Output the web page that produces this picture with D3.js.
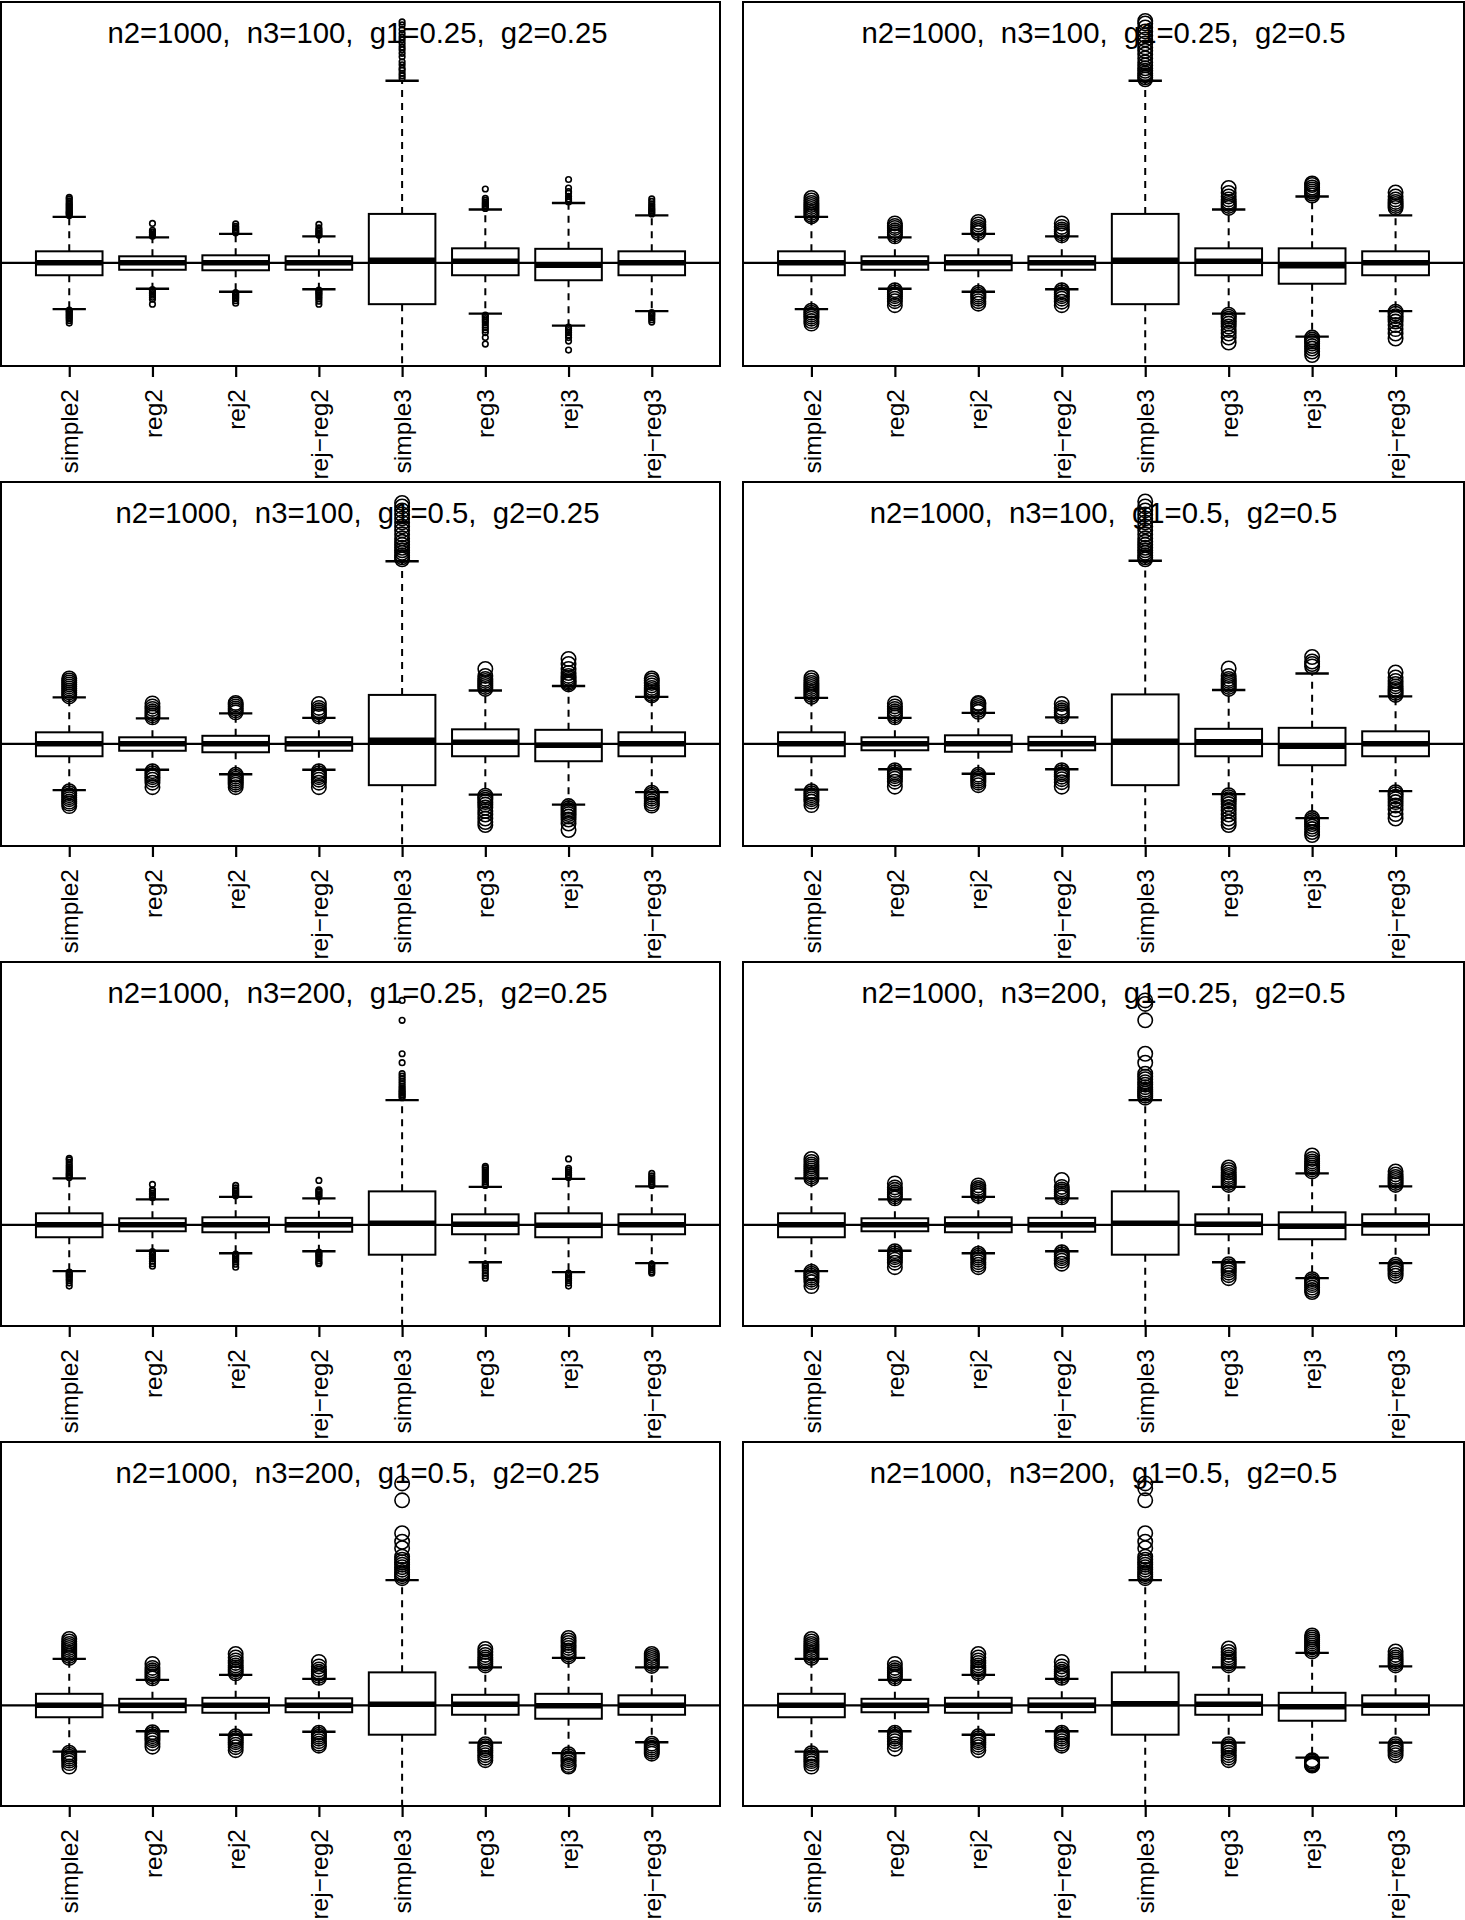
<!DOCTYPE html>
<html>
<head>
<meta charset="utf-8">
<script src="https://cdn.jsdelivr.net/npm/d3@7"></script>
<style>
  body { margin: 0; background: #fff; }
  text { font-family: "Liberation Sans", Arial, Helvetica, sans-serif; fill: #000; white-space: pre; }
</style>
</head>
<body>
<div id="chart"></div>
<script>
const methods = ["simple2", "reg2", "rej2", "rej\u2212reg2", "simple3", "reg3", "rej3", "rej\u2212reg3"];

const panelTitles = [
    "n2=1000,  n3=100,  g1=0.25,  g2=0.25",
    "n2=1000,  n3=100,  g1=0.25,  g2=0.5",
    "n2=1000,  n3=100,  g1=0.5,  g2=0.25",
    "n2=1000,  n3=100,  g1=0.5,  g2=0.5",
    "n2=1000,  n3=200,  g1=0.25,  g2=0.25",
    "n2=1000,  n3=200,  g1=0.25,  g2=0.5",
    "n2=1000,  n3=200,  g1=0.5,  g2=0.25",
    "n2=1000,  n3=200,  g1=0.5,  g2=0.5"
];

// y limits of each panel
const yLimits = [
    [-2.07, 5.23], [-2.07, 5.23],
    [-2.05, 5.25], [-2.05, 5.25],
    [-2.03, 5.27], [-2.03, 5.27],
    [-2.02, 5.28], [-2.02, 5.28]
];

// [lower whisker, Q1, median, Q3, upper whisker] for each method
const p1Stats = [
    [-0.93, -0.25, 0, 0.23, 0.92], [-0.52, -0.14, 0, 0.13, 0.51], [-0.58, -0.15, 0, 0.15, 0.58], [-0.53, -0.14, 0, 0.13, 0.53],
    [-2.6, -0.83, 0.05, 0.98, 3.65], [-1.02, -0.25, 0.03, 0.29, 1.07], [-1.26, -0.35, -0.05, 0.28, 1.2], [-0.97, -0.25, 0, 0.23, 0.95]
];
const p1Outliers = [
    [0.95, 0.98, 1.0, 1.02, 1.05, 1.08, 1.11, 1.14, 1.17, 1.2, 1.24, 1.28, 1.31, -0.95, -0.97, -1.0, -1.03, -1.06, -1.09, -1.12, -1.16, -1.21],
    [0.53, 0.55, 0.57, 0.6, 0.62, 0.65, 0.79, -0.54, -0.56, -0.59, -0.62, -0.65, -0.69, -0.73, -0.83],
    [0.6, 0.62, 0.64, 0.67, 0.7, 0.73, 0.78, -0.6, -0.63, -0.66, -0.69, -0.72, -0.76, -0.81],
    [0.55, 0.57, 0.6, 0.63, 0.66, 0.7, 0.77, -0.55, -0.58, -0.61, -0.64, -0.68, -0.72, -0.77, -0.83],
    [3.7, 3.75, 3.8, 3.86, 3.9, 3.97, 4.03, 4.13, 4.2, 4.27, 4.33, 4.4, 4.47, 4.53, 4.6, 4.68, 4.77, 4.83],
    [1.09, 1.12, 1.15, 1.18, 1.21, 1.25, 1.29, 1.48, -1.05, -1.08, -1.12, -1.16, -1.2, -1.25, -1.3, -1.35, -1.4, -1.5, -1.63],
    [1.22, 1.25, 1.28, 1.33, 1.4, 1.43, 1.5, 1.67, -1.29, -1.32, -1.36, -1.4, -1.45, -1.5, -1.57, -1.75],
    [0.98, 1.01, 1.04, 1.07, 1.1, 1.14, 1.18, 1.23, 1.28, -1.0, -1.03, -1.06, -1.1, -1.14, -1.19]
];

const p2Stats = [
    [-0.93, -0.25, 0, 0.23, 0.92], [-0.52, -0.14, 0, 0.13, 0.51], [-0.58, -0.15, 0, 0.15, 0.58], [-0.53, -0.14, 0, 0.13, 0.53],
    [-2.6, -0.83, 0.05, 0.98, 3.65], [-1.02, -0.25, 0.03, 0.29, 1.07], [-1.48, -0.42, -0.06, 0.29, 1.33], [-0.97, -0.25, 0, 0.23, 0.95]
];
const p2Outliers = [
    [0.93, 0.96, 1.0, 1.04, 1.08, 1.12, 1.16, 1.2, 1.25, 1.3, -0.96, -1.0, -1.04, -1.08, -1.12, -1.17, -1.22],
    [0.53, 0.57, 0.61, 0.65, 0.7, 0.74, 0.79, -0.55, -0.59, -0.63, -0.67, -0.72, -0.77, -0.85],
    [0.6, 0.64, 0.68, 0.72, 0.77, 0.82, -0.6, -0.64, -0.68, -0.72, -0.77, -0.82],
    [0.55, 0.59, 0.63, 0.67, 0.72, 0.79, -0.55, -0.59, -0.63, -0.67, -0.72, -0.78, -0.85],
    [3.68, 3.72, 3.76, 3.8, 3.85, 3.9, 3.96, 4.02, 4.1, 4.18, 4.25, 4.32, 4.4, 4.48, 4.56, 4.64, 4.72, 4.8, 4.85],
    [1.1, 1.14, 1.18, 1.22, 1.27, 1.33, 1.4, 1.5, -1.04, -1.08, -1.12, -1.17, -1.22, -1.28, -1.35, -1.42, -1.5, -1.6],
    [1.35, 1.39, 1.43, 1.47, 1.51, 1.56, 1.59, -1.5, -1.54, -1.58, -1.62, -1.67, -1.72, -1.78, -1.85],
    [1.1, 1.14, 1.18, 1.22, 1.27, 1.33, 1.41, -0.98, -1.02, -1.07, -1.12, -1.18, -1.25, -1.33, -1.42, -1.52]
];

const p3Stats = [
    [-0.93, -0.25, 0, 0.23, 0.93], [-0.52, -0.14, 0, 0.13, 0.51], [-0.61, -0.17, 0, 0.16, 0.61], [-0.52, -0.14, 0, 0.13, 0.52],
    [-2.6, -0.83, 0.07, 0.98, 3.66], [-1.02, -0.25, 0.03, 0.29, 1.07], [-1.22, -0.35, -0.03, 0.28, 1.16], [-0.97, -0.25, 0, 0.23, 0.94]
];
const p3Outliers = [
    [0.95, 0.99, 1.03, 1.07, 1.11, 1.15, 1.19, 1.23, 1.27, 1.31, -0.95, -0.99, -1.03, -1.07, -1.11, -1.16, -1.2, -1.25],
    [0.53, 0.57, 0.61, 0.65, 0.7, 0.75, 0.81, -0.55, -0.59, -0.63, -0.67, -0.72, -0.78, -0.87],
    [0.63, 0.67, 0.71, 0.75, 0.79, 0.82, -0.62, -0.66, -0.7, -0.74, -0.78, -0.82, -0.87],
    [0.55, 0.59, 0.63, 0.67, 0.72, 0.8, -0.55, -0.59, -0.63, -0.67, -0.72, -0.78, -0.87],
    [3.7, 3.74, 3.78, 3.83, 3.88, 3.93, 3.99, 4.05, 4.12, 4.2, 4.28, 4.36, 4.44, 4.52, 4.6, 4.68, 4.76, 4.83],
    [1.1, 1.14, 1.18, 1.22, 1.26, 1.3, 1.36, 1.5, -1.04, -1.08, -1.12, -1.17, -1.22, -1.28, -1.35, -1.42, -1.5, -1.57, -1.63],
    [1.19, 1.22, 1.25, 1.28, 1.32, 1.36, 1.42, 1.5, 1.6, 1.7, -1.25, -1.29, -1.33, -1.37, -1.41, -1.46, -1.52, -1.6, -1.73],
    [0.97, 1.0, 1.04, 1.08, 1.12, 1.17, 1.22, 1.27, 1.31, -0.98, -1.02, -1.06, -1.1, -1.15, -1.2, -1.24]
];

const p4Stats = [
    [-0.92, -0.25, 0, 0.23, 0.92], [-0.51, -0.13, 0, 0.13, 0.52], [-0.6, -0.16, 0, 0.17, 0.62], [-0.51, -0.13, 0, 0.14, 0.53],
    [-2.6, -0.83, 0.05, 0.99, 3.67], [-1.01, -0.25, 0.04, 0.3, 1.08], [-1.49, -0.43, -0.05, 0.32, 1.41], [-0.95, -0.25, 0, 0.25, 0.95]
];
const p4Outliers = [
    [0.94, 0.98, 1.02, 1.06, 1.1, 1.14, 1.18, 1.22, 1.27, 1.32, -0.95, -0.99, -1.03, -1.07, -1.11, -1.16, -1.23],
    [0.53, 0.57, 0.61, 0.65, 0.7, 0.75, 0.81, -0.53, -0.57, -0.61, -0.65, -0.7, -0.76, -0.86],
    [0.64, 0.68, 0.72, 0.76, 0.8, 0.82, -0.62, -0.66, -0.7, -0.74, -0.78, -0.83],
    [0.55, 0.59, 0.63, 0.67, 0.72, 0.8, -0.53, -0.57, -0.61, -0.66, -0.71, -0.77, -0.86],
    [3.7, 3.74, 3.78, 3.83, 3.88, 3.93, 3.99, 4.05, 4.12, 4.2, 4.28, 4.36, 4.44, 4.52, 4.6, 4.68, 4.76, 4.86],
    [1.1, 1.14, 1.18, 1.22, 1.26, 1.3, 1.36, 1.51, -1.03, -1.07, -1.11, -1.16, -1.21, -1.27, -1.34, -1.42, -1.5, -1.57, -1.63],
    [1.55, 1.6, 1.65, 1.74, -1.49, -1.53, -1.57, -1.61, -1.66, -1.71, -1.77, -1.83],
    [0.98, 1.02, 1.06, 1.1, 1.15, 1.2, 1.26, 1.33, 1.43, -0.97, -1.01, -1.06, -1.11, -1.17, -1.24, -1.32, -1.41, -1.5]
];

const p5Stats = [
    [-0.93, -0.25, 0, 0.23, 0.93], [-0.52, -0.13, 0, 0.13, 0.51], [-0.57, -0.15, 0, 0.15, 0.56], [-0.53, -0.14, 0, 0.14, 0.53],
    [-2.6, -0.6, 0.03, 0.67, 2.5], [-0.75, -0.19, 0.01, 0.21, 0.76], [-0.95, -0.25, -0.01, 0.23, 0.92], [-0.77, -0.19, 0, 0.21, 0.77]
];
const p5Outliers = [
    [0.95, 0.98, 1.01, 1.04, 1.08, 1.12, 1.16, 1.2, 1.25, 1.3, 1.33, -0.95, -0.98, -1.01, -1.04, -1.08, -1.12, -1.17, -1.23],
    [0.54, 0.57, 0.6, 0.63, 0.67, 0.7, 0.81, -0.54, -0.57, -0.6, -0.64, -0.68, -0.73, -0.78, -0.83],
    [0.58, 0.61, 0.64, 0.67, 0.7, 0.74, 0.79, -0.59, -0.62, -0.66, -0.7, -0.74, -0.79, -0.85],
    [0.56, 0.59, 0.62, 0.65, 0.68, 0.7, 0.89, -0.55, -0.58, -0.61, -0.64, -0.68, -0.72, -0.76, -0.78],
    [2.55, 2.58, 2.61, 2.64, 2.67, 2.7, 2.74, 2.78, 2.83, 2.88, 2.93, 2.98, 3.03, 3.25, 3.43, 4.1, 4.5],
    [0.79, 0.82, 0.86, 0.9, 0.94, 0.98, 1.02, 1.06, 1.1, 1.14, 1.17, -0.79, -0.83, -0.87, -0.92, -0.97, -1.02, -1.07],
    [0.95, 0.98, 1.01, 1.05, 1.09, 1.13, 1.32, -0.97, -1.0, -1.04, -1.08, -1.12, -1.17, -1.23],
    [0.79, 0.82, 0.86, 0.9, 0.94, 0.98, 1.03, -0.79, -0.82, -0.86, -0.9, -0.94, -0.97]
];

const p6Stats = [
    [-0.93, -0.25, 0, 0.23, 0.93], [-0.52, -0.13, 0, 0.13, 0.51], [-0.57, -0.15, 0, 0.15, 0.56], [-0.53, -0.14, 0, 0.14, 0.53],
    [-2.6, -0.6, 0.03, 0.67, 2.5], [-0.75, -0.19, 0.01, 0.21, 0.76], [-1.07, -0.29, -0.03, 0.25, 1.03], [-0.77, -0.2, 0, 0.21, 0.77]
];
const p6Outliers = [
    [0.93, 0.97, 1.01, 1.05, 1.09, 1.13, 1.17, 1.21, 1.26, 1.32, -0.94, -0.98, -1.02, -1.06, -1.1, -1.15, -1.23],
    [0.53, 0.57, 0.61, 0.65, 0.7, 0.75, 0.83, -0.53, -0.57, -0.61, -0.65, -0.7, -0.76, -0.85],
    [0.58, 0.62, 0.66, 0.7, 0.74, 0.79, -0.58, -0.62, -0.66, -0.7, -0.75, -0.8, -0.85],
    [0.55, 0.59, 0.63, 0.67, 0.71, 0.76, 0.9, -0.55, -0.59, -0.63, -0.67, -0.72, -0.78],
    [2.55, 2.59, 2.63, 2.67, 2.71, 2.76, 2.81, 2.86, 2.92, 2.97, 3.03, 3.25, 3.43, 4.1, 4.43, 4.5],
    [0.8, 0.84, 0.88, 0.92, 0.96, 1.0, 1.05, 1.1, 1.15, -0.79, -0.83, -0.87, -0.91, -0.96, -1.01, -1.07],
    [1.07, 1.11, 1.15, 1.19, 1.23, 1.27, 1.32, 1.39, -1.09, -1.13, -1.17, -1.21, -1.26, -1.31, -1.35],
    [0.8, 0.84, 0.88, 0.92, 0.96, 1.01, 1.07, -0.8, -0.84, -0.88, -0.92, -0.97, -1.02]
];

const p7Stats = [
    [-0.93, -0.24, 0, 0.23, 0.93], [-0.52, -0.14, 0, 0.13, 0.51], [-0.59, -0.15, 0, 0.15, 0.61], [-0.53, -0.14, 0, 0.14, 0.53],
    [-2.6, -0.59, 0.02, 0.66, 2.51], [-0.75, -0.19, 0.02, 0.21, 0.76], [-0.96, -0.27, -0.01, 0.23, 0.95], [-0.74, -0.19, 0, 0.2, 0.76]
];
const p7Outliers = [
    [0.95, 0.99, 1.03, 1.07, 1.11, 1.15, 1.19, 1.23, 1.28, 1.33, -0.95, -0.99, -1.03, -1.07, -1.11, -1.16, -1.23],
    [0.54, 0.58, 0.62, 0.66, 0.7, 0.75, 0.83, -0.54, -0.58, -0.62, -0.66, -0.7, -0.76, -0.83],
    [0.64, 0.68, 0.72, 0.76, 0.8, 0.85, 0.9, 0.96, 1.03, -0.62, -0.66, -0.7, -0.74, -0.79, -0.84, -0.9],
    [0.55, 0.59, 0.63, 0.67, 0.72, 0.78, 0.87, -0.55, -0.59, -0.63, -0.67, -0.72, -0.77, -0.81],
    [2.55, 2.59, 2.63, 2.67, 2.72, 2.77, 2.82, 2.87, 2.92, 2.98, 3.15, 3.28, 3.45, 4.11, 4.45],
    [0.8, 0.84, 0.88, 0.92, 0.96, 1.01, 1.07, 1.13, -0.78, -0.82, -0.86, -0.9, -0.95, -1.0, -1.05, -1.1],
    [0.98, 1.02, 1.06, 1.1, 1.15, 1.2, 1.25, 1.3, 1.35, -0.98, -1.02, -1.06, -1.1, -1.15, -1.2, -1.23],
    [0.79, 0.83, 0.87, 0.91, 0.95, 0.99, 1.03, -0.77, -0.81, -0.85, -0.89, -0.93, -0.97]
];

const p8Stats = [
    [-0.93, -0.24, 0, 0.23, 0.93], [-0.52, -0.14, 0, 0.13, 0.51], [-0.59, -0.15, 0, 0.15, 0.61], [-0.52, -0.14, 0, 0.14, 0.53],
    [-2.6, -0.59, 0.03, 0.66, 2.51], [-0.75, -0.19, 0.02, 0.21, 0.76], [-1.05, -0.31, -0.03, 0.25, 1.05], [-0.75, -0.19, 0, 0.2, 0.78]
];
const p8Outliers = [
    [0.95, 0.99, 1.03, 1.07, 1.11, 1.15, 1.19, 1.23, 1.28, 1.33, -0.96, -1.0, -1.04, -1.08, -1.12, -1.17, -1.23],
    [0.54, 0.58, 0.62, 0.66, 0.7, 0.75, 0.83, -0.55, -0.59, -0.63, -0.67, -0.72, -0.78, -0.87],
    [0.64, 0.68, 0.72, 0.76, 0.8, 0.85, 0.9, 0.96, 1.03, -0.62, -0.66, -0.7, -0.74, -0.79, -0.84, -0.9],
    [0.55, 0.59, 0.63, 0.67, 0.72, 0.78, 0.87, -0.55, -0.59, -0.63, -0.67, -0.72, -0.77, -0.81],
    [2.55, 2.59, 2.63, 2.67, 2.72, 2.77, 2.82, 2.87, 2.92, 2.98, 3.15, 3.28, 3.45, 4.11, 4.35, 4.45],
    [0.8, 0.84, 0.88, 0.92, 0.96, 1.01, 1.07, 1.14, -0.78, -0.82, -0.86, -0.9, -0.95, -1.0, -1.05, -1.1],
    [1.08, 1.12, 1.16, 1.2, 1.24, 1.28, 1.32, 1.36, 1.4, -1.1, -1.13, -1.16, -1.18, -1.19, -1.2, -1.21],
    [0.8, 0.84, 0.88, 0.92, 0.96, 1.01, 1.08, -0.78, -0.82, -0.86, -0.9, -0.95, -1.0]
];

const panelStats = [p1Stats, p2Stats, p3Stats, p4Stats, p5Stats, p6Stats, p7Stats, p8Stats];
const panelOutliers = [p1Outliers, p2Outliers, p3Outliers, p4Outliers, p5Outliers, p6Outliers, p7Outliers, p8Outliers];

// panels drawn with the small outlier symbol
const smallSymbolPanels = [0, 4];

class BoxPanel {

    constructor(svg, index){
        this.svg = svg;
        this.index = index;

        let col = index % 2;
        let row = Math.floor(index / 2);

        this.left = col == 0 ? 1 : 743;
        this.right = col == 0 ? 720 : 1464;
        this.top = row * 480 + 2;
        this.bottom = row * 480 + 366;

        this.lw = 2;
        this.r = smallSymbolPanels.includes(index) ? 2.8 : 7.2;
    }

    draw(){
        let i = this.index;
        let stats = panelStats[i];
        let outliers = panelOutliers[i];

        let x = d3.scaleLinear()
            .domain([0.18, 8.82])
            .range([this.left, this.right]);

        let y = d3.scaleLinear()
            .domain(yLimits[i])
            .range([this.bottom, this.top]);

        let g = this.svg.append('g');

        g.append('clipPath').attr('id', 'clip' + i)
            .append('rect')
            .attr('x', this.left).attr('y', this.top)
            .attr('width', this.right - this.left)
            .attr('height', this.bottom - this.top);

        //title inside the frame
        let cx = (this.left + this.right) / 2;
        g.append('text')
            .attr('x', i % 2 == 0 ? cx - 3 : cx)
            .attr('y', this.top + 41)
            .attr('text-anchor', 'middle')
            .attr('font-size', 29.3)
            .text(panelTitles[i]);

        let plot = g.append('g').attr('clip-path', 'url(#clip' + i + ')');

        let boxes = plot.selectAll('.box')
            .data(stats)
            .enter()
            .append('g')
            .attr('class', 'box');

        // whiskers
        boxes.append('line')
            .attr('x1', (d, k) => x(k + 1)).attr('x2', (d, k) => x(k + 1))
            .attr('y1', d => y(d[3])).attr('y2', d => y(d[4]))
            .attr('stroke', 'black').attr('stroke-width', this.lw)
            .attr('stroke-dasharray', '7,6');

        boxes.append('line')
            .attr('x1', (d, k) => x(k + 1)).attr('x2', (d, k) => x(k + 1))
            .attr('y1', d => y(d[1])).attr('y2', d => y(d[0]))
            .attr('stroke', 'black').attr('stroke-width', this.lw)
            .attr('stroke-dasharray', '7,6');

        // staples
        [0, 4].forEach((s) => {
            boxes.append('line')
                .attr('x1', (d, k) => x(k + 0.8)).attr('x2', (d, k) => x(k + 1.2))
                .attr('y1', d => y(d[s])).attr('y2', d => y(d[s]))
                .attr('stroke', 'black').attr('stroke-width', this.lw + 0.4);
        });

        boxes.append('rect')
            .attr('x', (d, k) => x(k + 0.6))
            .attr('y', d => y(d[3]))
            .attr('width', x(1.4) - x(0.6))
            .attr('height', d => y(d[1]) - y(d[3]))
            .attr('fill', 'none')
            .attr('stroke', 'black').attr('stroke-width', this.lw);

        boxes.append('line')
            .attr('x1', (d, k) => x(k + 0.6)).attr('x2', (d, k) => x(k + 1.4))
            .attr('y1', d => y(d[2])).attr('y2', d => y(d[2]))
            .attr('stroke', 'black').attr('stroke-width', 5.5);

        // outliers
        boxes.each((d, k, nodes) => {
            d3.select(nodes[k]).selectAll('circle')
                .data(outliers[k])
                .enter()
                .append('circle')
                .attr('cx', x(k + 1))
                .attr('cy', v => y(v))
                .attr('r', this.r)
                .attr('fill', 'none')
                .attr('stroke', 'black')
                .attr('stroke-width', 1.6);
        });

        // reference line at zero
        g.append('line')
            .attr('x1', this.left).attr('x2', this.right)
            .attr('y1', y(0)).attr('y2', y(0))
            .attr('stroke', 'black').attr('stroke-width', 2.2);

        g.append('rect')
            .attr('x', this.left).attr('y', this.top)
            .attr('width', this.right - this.left)
            .attr('height', this.bottom - this.top)
            .attr('fill', 'none')
            .attr('stroke', 'black').attr('stroke-width', this.lw);

        let axis = g.append('g')
            .attr('transform', 'translate(0,' + this.bottom + ')')
            .call(d3.axisBottom(x)
                .tickValues(d3.range(1, 9))
                .tickFormat(k => methods[k - 1])
                .tickSize(11));

        axis.select('.domain').remove();
        axis.selectAll('line').attr('stroke-width', 2.2);
        axis.selectAll('text')
            .attr('font-size', 24.5)
            .attr('font-family', '"Liberation Sans", Arial, Helvetica, sans-serif')
            .attr('transform', 'rotate(-90)')
            .attr('x', -23)
            .attr('y', 0)
            .attr('dy', '0.35em')
            .style('text-anchor', 'end');
    }
}

let svg = d3.select('#chart')
    .append('svg')
    .attr('width', 1465)
    .attr('height', 1920)
    .style('background', '#fff');

for(let i = 0; i < 8; i++){
    let panel = new BoxPanel(svg, i);
    panel.draw();
}
</script>
</body>
</html>
